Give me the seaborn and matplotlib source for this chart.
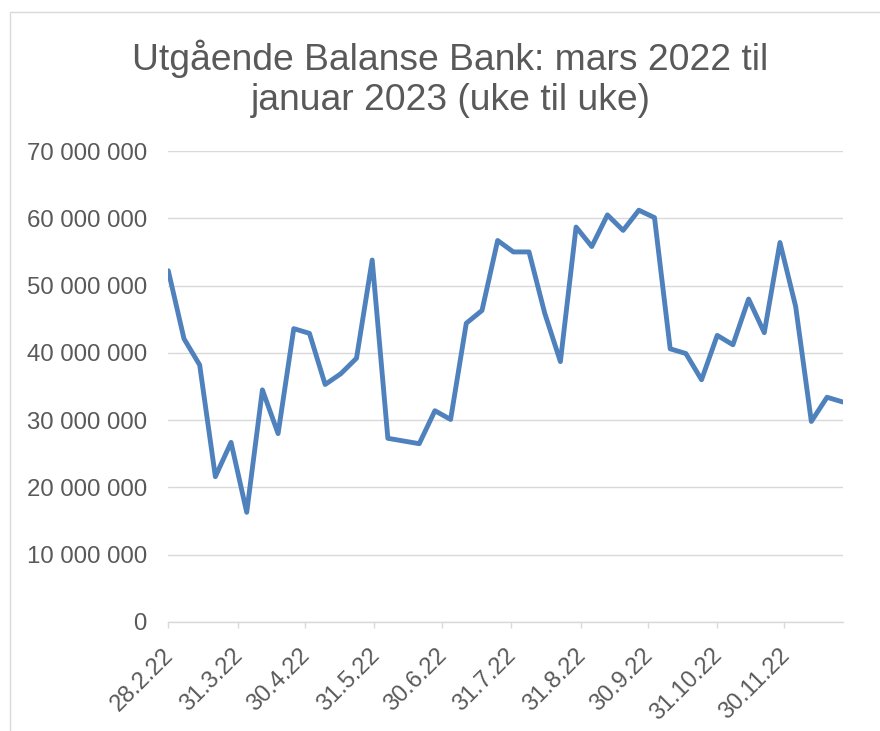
import matplotlib
matplotlib.use("Agg")
import matplotlib.pyplot as plt
import matplotlib.transforms as mtransforms
from matplotlib.patches import Rectangle
from matplotlib.ticker import FuncFormatter
import seaborn as sns
import pandas as pd

# ---- data ----
start_date = "2022-02-28"
n_weeks = 44
balance = [
    52.2, 42.1, 38.2, 21.6, 26.7, 16.3, 34.5, 28.0, 43.6, 42.9,
    35.3, 36.9, 39.2, 53.8, 27.3, 26.9, 26.5, 31.4, 30.1, 44.4,
    46.3, 56.7, 55.0, 55.0, 45.9, 38.7, 58.7, 55.8, 60.5, 58.2,
    61.2, 60.1, 40.6, 39.9, 36.0, 42.6, 41.2, 48.0, 43.0, 56.4,
    46.9, 29.8, 33.4, 32.7,
]  # millions
tick_dates = ["2022-02-28", "2022-03-31", "2022-04-30", "2022-05-31", "2022-06-30",
              "2022-07-31", "2022-08-31", "2022-09-30", "2022-10-31", "2022-11-30"]
tick_labels = ["28.2.22", "31.3.22", "30.4.22", "31.5.22", "30.6.22",
               "31.7.22", "31.8.22", "30.9.22", "31.10.22", "30.11.22"]
y_ticks = [0, 10_000_000, 20_000_000, 30_000_000, 40_000_000, 50_000_000, 60_000_000, 70_000_000]
title = "Utgående Balanse Bank: mars 2022 til\njanuar 2023 (uke til uke)"

dates = pd.date_range(start_date, periods=n_weeks, freq="7D")
df = pd.DataFrame({"dato": dates, "balanse": [v * 1_000_000 for v in balance]})

# ---- style ----
sns.set_theme(style="white")
plt.rcParams["font.family"] = ["Liberation Sans", "DejaVu Sans"]
text_color = "#595959"
grid_color = "#d9d9d9"

W, H = 880, 731
fig = plt.figure(figsize=(W / 100, H / 100), dpi=100)
ax = fig.add_axes([168.3 / W, 1 - 622 / H, (842.7 - 168.3) / W, (622 - 151) / H])

sns.lineplot(data=df, x="dato", y="balanse", ax=ax, color="#4f81bd", linewidth=3.5,
             solid_joinstyle="round", solid_capstyle="round")

ax.set_xlim(dates[0], dates[-1])
ax.set_ylim(0, 70_000_000)
ax.set_yticks(y_ticks)
ax.yaxis.set_major_formatter(FuncFormatter(lambda v, p: f"{int(v):,}".replace(",", " ")))
ax.set_xticks(pd.to_datetime(tick_dates))
ax.set_xticklabels(tick_labels)

ax.set_xlabel("")
ax.set_ylabel("")
for s in ["top", "right", "left"]:
    ax.spines[s].set_visible(False)
ax.spines["bottom"].set_color(grid_color)
ax.spines["bottom"].set_linewidth(1.0)
ax.grid(axis="y", color=grid_color, linewidth=1.0)
ax.grid(axis="x", visible=False)
ax.set_axisbelow(True)

ax.tick_params(axis="y", length=0, pad=15.5, labelsize=17.3, labelcolor=text_color)
ax.tick_params(axis="x", length=4, width=1.0, color=grid_color, direction="out",
               pad=4, labelsize=17.0, labelcolor=text_color, bottom=True)
shift = mtransforms.ScaledTranslation(-6 / 100, -11 / 100, fig.dpi_scale_trans)
for lbl in ax.get_xticklabels():
    lbl.set_rotation(45)
    lbl.set_ha("right")
    lbl.set_va("top")
    lbl.set_rotation_mode("anchor")
    lbl.set_transform(lbl.get_transform() + shift)

fig.text(450.5 / W, 1 - 110 / H, title, ha="center", va="baseline", fontsize=26.8,
         color=text_color, linespacing=1.2)

# chart-area border (only top and left visible in the crop)
fig.add_artist(Rectangle((10 / W, -0.2), 1.2, 1.2 - 12 / H, transform=fig.transFigure,
                         fill=False, edgecolor=grid_color, linewidth=1.0))

fig.savefig("out.png", dpi=100)
